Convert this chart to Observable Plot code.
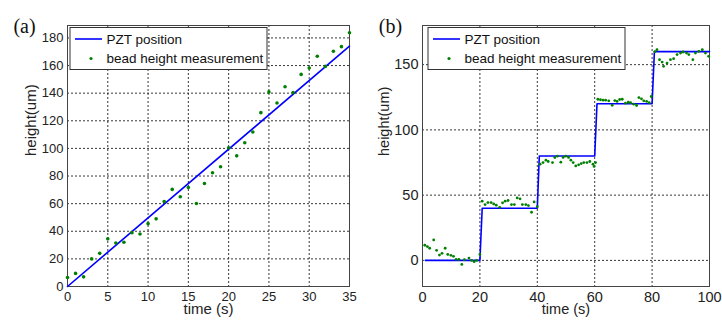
<!DOCTYPE html>
<html><head><meta charset="utf-8">
<script src="https://cdn.jsdelivr.net/npm/d3@7"></script>
<script src="https://cdn.jsdelivr.net/npm/@observablehq/plot@0.6"></script>
<style>
body{margin:0;background:#fff;}
#wrap{display:flex;width:722px;height:322px;overflow:hidden;}
</style></head><body><div id="wrap"></div>
<script>
// ---------- Panel (a) ----------
const timeA = [0,1,2,3,4,5,6,7,8,9,10,11,12,13,14,15,16,17,18,19,20,21,22,23,24,25,26,27,28,29,30,31,32,33,34,35];
const heightA = [6.5,9.5,7,20,24,34.5,31.5,32,39,38,45.5,49,61.5,70.3,65,71.7,60.1,74.6,82.4,86.7,100.5,94.6,104.1,111.9,125.9,140.9,132.9,144.7,140.4,153.6,158.2,166.7,159.4,170.3,173.7,183.8];
const pztTimeA = [0,35];
const pztHeightA = [0,174];
const xTicksA = [0,5,10,15,20,25,30,35];
const yTicksA = [0,20,40,60,80,100,120,140,160,180];

// ---------- Panel (b) ----------
const timeB = [0.8,1.7,2.5,3.9,4.9,5.9,6.8,7.9,8.8,9.9,10.8,11.7,12.7,13.7,14.6,16.2,17.1,18.0,18.9,20.0,
  20.8,21.8,22.8,23.9,24.8,25.7,26.9,27.9,28.8,29.8,31.0,32.0,33.0,34.0,34.8,36.0,36.9,38.0,38.9,40.0,
  41.0,42.0,43.0,43.8,45.3,46.1,47.0,48.2,49.0,49.9,50.9,51.7,52.5,53.4,54.4,55.3,56.2,57.3,58.3,59.4,59.8,60.3,
  61.1,62.0,62.9,63.8,64.9,66.1,67.0,67.8,68.7,69.6,70.7,71.7,72.5,73.6,74.6,75.4,76.3,77.1,78.1,79.0,79.7,
  81.0,81.7,82.6,83.5,84.0,85.2,86.4,87.5,88.7,89.9,90.8,92.0,92.8,94.2,95.1,96.3,97.5,98.6,99.7];
const heightB = [11.6,10.6,9.3,15.7,7.7,4.1,5.4,9.3,4.6,3.9,3.1,0.8,0.8,-3.1,0.5,1.8,0,-1,0,4.6,
  45.4,42.8,44.3,44.3,43.3,42.3,40.7,44.1,45.4,45.9,42.8,42.8,47.9,47.2,42.8,42.8,42,36.9,44.8,41.2,
  73.7,75,76.8,75.8,75,78.8,79.9,75.3,78.9,79.9,78.9,76.8,75,72.4,73.2,74.2,75,75,75.8,73.7,72,75,
  123.5,123.1,122.8,122.8,122.3,118.9,122.5,121.8,123.3,123.5,120.5,121.2,120.8,119.7,118.7,124.8,123.8,122.3,121.8,120.8,125.6,
  160,161.5,153.8,152,148.7,151.2,153.8,154.6,157.7,158.9,159.7,158.9,157.7,153.8,158.9,160.2,161.5,158.9,156.4];
const pztTimeB = [1,20,20.8,40,40.7,60,60.8,80,80.8,100];
const pztHeightB = [0,0,40,40,80,80,120,120,160,160];
const xTicksB = [0,20,40,60,80,100];
const yTicksB = [0,50,100,150];

const seriesNames = ["PZT position", "bead height measurement"];

function panel(o) {
  const pts = o.xs.map((x, i) => ({x, y: o.ys[i]}));
  const line = o.lx.map((x, i) => ({x, y: o.ly[i]}));
  const gridStyle = {stroke: "#222", strokeOpacity: 0.9, strokeDasharray: "2,2", strokeWidth: 1};
  const chart = Plot.plot({
    width: 361, height: 322,
    marginLeft: o.marginLeft, marginRight: o.marginRight, marginTop: 25, marginBottom: 36,
    style: {fontFamily: "'Liberation Sans', Arial, sans-serif", fontSize: o.tickFont + "px", color: "#222", background: "#fff", overflow: "visible"},
    x: {domain: o.xDomain},
    y: {domain: o.yDomain},
    marks: [
      Plot.gridX(o.xTicks.filter(t => t > o.xDomain[0] && t < o.xDomain[1]), gridStyle),
      Plot.gridY(o.yTicks.filter(t => t > o.yDomain[0] && t < o.yDomain[1]), gridStyle),
      Plot.frame({stroke: "#444", strokeWidth: 1}),
      Plot.line(line, {x: "x", y: "y", stroke: "#0000ff", strokeWidth: 1.6}),
      Plot.dot(pts, {x: "x", y: "y", r: o.dotR, fill: "#008000", stroke: "none"}),
      Plot.axisX(o.xTicks, {tickSize: 0, tickPadding: 5, label: null, fontSize: o.tickFont}),
      Plot.axisY(o.yTicks, {tickSize: 0, tickPadding: 4, label: null, fontSize: o.tickFont}),
      Plot.text(["time (s)"], {frameAnchor: "bottom", dy: 27, fontSize: o.titleFont, fill: "#222"}),
      Plot.text(["height(um)"], {frameAnchor: "left", rotate: -90, dx: o.ylabelDx, fontSize: o.titleFont, fill: "#222"}),
      Plot.text([o.tag], {frameAnchor: "top-left", dx: o.tagDx, dy: -7, fontFamily: "'Liberation Serif', 'Times New Roman', serif", fontSize: 20, textAnchor: "middle", fill: "#111"})
    ]
  });
  // legend box (layout only)
  const svg = d3.select(chart);
  const g = svg.append("g")
    .attr("font-family", "'Liberation Sans', Arial, sans-serif")
    .attr("font-size", 13.5)
    .attr("text-anchor", "start");
  const bx = o.legendX, by = 27.5, bw = 197, bh = 42;
  g.append("rect").attr("x", bx).attr("y", by).attr("width", bw).attr("height", bh)
    .attr("fill", "#fff").attr("stroke", "#333").attr("stroke-width", 1);
  g.append("line").attr("x1", bx + 5).attr("x2", bx + 32).attr("y1", by + 11.5).attr("y2", by + 11.5)
    .attr("stroke", "#0000ff").attr("stroke-width", 1.6);
  g.append("circle").attr("cx", bx + 21).attr("cy", by + 31).attr("r", 1.6).attr("fill", "#008000");
  g.append("text").attr("x", bx + 36.5).attr("y", by + 16.5).attr("fill", "#111").attr("text-anchor", "start").text(seriesNames[0]);
  g.append("text").attr("x", bx + 36.5).attr("y", by + 35.5).attr("fill", "#111").attr("text-anchor", "start").text(seriesNames[1]);
  return chart;
}

const wrap = document.getElementById("wrap");
wrap.appendChild(panel({
  xs: timeA, ys: heightA, lx: pztTimeA, ly: pztHeightA,
  xDomain: [0, 35], yDomain: [0, 189], xTicks: xTicksA, yTicks: yTicksA,
  marginLeft: 67, marginRight: 12, dotR: 1.8, ylabelDx: -36, tagDx: -43, tag: "(a)", legendX: 70,
  tickFont: 13, titleFont: 15
}));
wrap.appendChild(panel({
  xs: timeB, ys: heightB, lx: pztTimeB, ly: pztHeightB,
  xDomain: [0, 100], yDomain: [-20, 180], xTicks: xTicksB, yTicks: yTicksB,
  marginLeft: 61, marginRight: 13, dotR: 1.4, ylabelDx: -38.5, tagDx: -32, tag: "(b)", legendX: 67,
  tickFont: 14.5, titleFont: 14.5
}));
</script>
</body></html>
